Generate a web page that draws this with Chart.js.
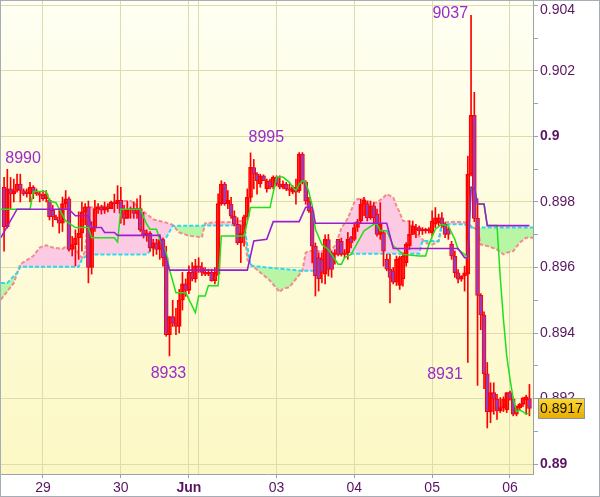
<!DOCTYPE html>
<html>
<head>
<meta charset="utf-8">
<title>Hourly Ichimoku</title>
<script src="https://cdn.jsdelivr.net/npm/chart.js"></script>
<style>
  html, body { margin: 0; padding: 0; background: #fff; }
  .wrap { width: 600px; height: 497px; position: relative; }
</style>
</head>
<body>
<div class="wrap"><canvas id="chart"></canvas></div>
<script>
  // hourly bars, bar k sits at slot firstBar + k
  const firstBar = 1;
  const open = [
    0.89845,0.89725,0.8984,0.89825,0.89835,0.89855,0.89835,0.8983,0.89825,0.89845,
    0.8983,0.89825,0.8982,0.8981,0.89805,0.89775,0.89755,0.89745,0.89735,0.89795,
    0.8981,0.89655,0.8967,0.8969,0.89705,0.8977,0.89785,0.896,0.8972,0.8978,
    0.89785,0.89775,0.89785,0.8978,0.898,0.89795,0.89805,0.89765,0.8975,0.89775,
    0.8978,0.89765,0.8978,0.89715,0.897,0.89705,0.8966,0.89675,0.89655,0.89685,
    0.8963,0.89395,0.8945,0.8943,0.8942,0.895,0.8955,0.8953,0.89585,0.89565,
    0.89605,0.896,0.89585,0.8958,0.89585,0.8956,0.8958,0.89795,0.89855,0.89795,
    0.89793,0.89757,0.89732,0.89676,0.89705,0.89755,0.89814,0.89905,0.89885,0.89855,
    0.8988,0.8984,0.89865,0.89845,0.89875,0.89855,0.89845,0.89855,0.8984,0.8983,
    0.89845,0.89834,0.89946,0.8986,0.89803,0.89773,0.89665,0.8963,0.89625,0.8958,
    0.89685,0.89645,0.8964,0.89686,0.8968,0.8964,0.89645,0.89691,0.89686,0.89722,
    0.89742,0.89793,0.89795,0.89752,0.89788,0.89763,0.89701,0.89707,0.89625,0.89595,
    0.8959,0.89555,0.89545,0.89565,0.89615,0.89666,0.89701,0.89715,0.89722,0.89717,
    0.89712,0.89712,0.89706,0.89732,0.89737,0.89752,0.89732,0.89717,0.89671,0.89635,
    0.89584,0.89564,0.89574,0.8958,0.89885,0.90065,0.8975,0.89515,0.89455,0.89275,
    0.8916,0.89218,0.89198,0.89162,0.89172,0.89165,0.89218,0.89198,0.89152,0.89172,
    0.89182,0.89195,0.892
  ];
  const high = [
    0.89875,0.899,0.89875,0.8987,0.89885,0.89885,0.8984,0.8984,0.8986,0.8985,
    0.8984,0.8983,0.89835,0.89835,0.8981,0.8979,0.8976,0.8978,0.89815,0.89835,
    0.89815,0.89695,0.89715,0.8977,0.898,0.89795,0.89803,0.8974,0.89805,0.89795,
    0.8979,0.898,0.89795,0.89803,0.89824,0.8985,0.89845,0.8979,0.89803,0.89785,
    0.898,0.8981,0.8982,0.89768,0.89715,0.8971,0.89686,0.89686,0.897,0.8969,
    0.89665,0.8945,0.895,0.89475,0.89533,0.89585,0.89565,0.89605,0.89615,0.89625,
    0.8963,0.89615,0.896,0.89595,0.89595,0.896,0.89825,0.89865,0.8986,0.89835,
    0.89814,0.89773,0.89752,0.8973,0.8976,0.8984,0.8995,0.8993,0.8989,0.89885,
    0.89883,0.8987,0.8987,0.8988,0.8988,0.8988,0.89865,0.8986,0.89855,0.8985,
    0.8987,0.89951,0.89951,0.89865,0.89814,0.89783,0.89675,0.89645,0.89645,0.897,
    0.89701,0.8965,0.89655,0.89686,0.8969,0.89655,0.89707,0.89695,0.89737,0.89747,
    0.89809,0.89814,0.89803,0.89803,0.89798,0.89778,0.89798,0.89712,0.8964,0.8964,
    0.896,0.89635,0.89635,0.89645,0.89676,0.89742,0.89742,0.89732,0.89727,0.89722,
    0.8972,0.89722,0.89773,0.89783,0.89763,0.89768,0.89737,0.89722,0.8968,0.8965,
    0.89594,0.89575,0.89604,0.8994,0.9037,0.90135,0.8981,0.8952,0.89465,0.8931,
    0.89248,0.89248,0.89213,0.89203,0.89205,0.89218,0.89223,0.89203,0.89177,0.89185,
    0.89203,0.8921,0.89243
  ];
  const low = [
    0.8965,0.8972,0.8978,0.898,0.8983,0.898,0.8982,0.89815,0.898,0.8981,
    0.8982,0.898,0.89805,0.898,0.89745,0.89725,0.89745,0.89705,0.8971,0.8978,
    0.8965,0.89635,0.89605,0.89625,0.8965,0.8973,0.89553,0.8958,0.8971,0.89765,
    0.89763,0.89765,0.8977,0.8978,0.89768,0.8978,0.89735,0.8973,0.8975,0.8975,
    0.8975,0.8975,0.8971,0.8969,0.8968,0.8965,0.89635,0.8964,0.89625,0.89604,
    0.8939,0.8933,0.8942,0.89395,0.894,0.8947,0.89512,0.8952,0.89559,0.89555,
    0.89585,0.89575,0.89575,0.89575,0.89558,0.8955,0.89575,0.8979,0.8979,0.8978,
    0.8975,0.89727,0.8967,0.89615,0.89665,0.89745,0.898,0.8984,0.89824,0.89845,
    0.89865,0.8983,0.8984,0.8984,0.8985,0.8984,0.8984,0.89835,0.89819,0.89825,
    0.89793,0.89829,0.89855,0.89793,0.89768,0.89614,0.89513,0.89528,0.89553,0.8955,
    0.89574,0.8957,0.8961,0.89635,0.89635,0.8963,0.89625,0.8966,0.89681,0.8971,
    0.89737,0.89758,0.89742,0.89747,0.89732,0.89696,0.89686,0.89604,0.8959,0.89492,
    0.8955,0.89545,0.89533,0.89543,0.89604,0.89655,0.89701,0.89691,0.89701,0.89701,
    0.89705,0.89705,0.89696,0.89722,0.89727,0.89722,0.89691,0.89686,0.89625,0.8957,
    0.89553,0.89558,0.89528,0.8931,0.8988,0.8974,0.8924,0.8941,0.8923,0.8911,
    0.89126,0.89152,0.89136,0.89157,0.8916,0.89157,0.89195,0.89147,0.89147,0.89165,
    0.89175,0.89152,0.89147
  ];
  const close = [
    0.89725,0.8984,0.89825,0.89835,0.89855,0.89835,0.89825,0.89825,0.89845,0.8983,
    0.89825,0.8982,0.8981,0.89825,0.89755,0.89755,0.89745,0.89735,0.89795,0.8981,
    0.89655,0.8967,0.8969,0.89705,0.8977,0.89785,0.896,0.8972,0.8978,0.89785,
    0.89775,0.89785,0.8978,0.898,0.89795,0.89805,0.89765,0.8975,0.89775,0.8978,
    0.89765,0.8978,0.89715,0.897,0.89705,0.8966,0.89675,0.89655,0.89685,0.8963,
    0.89395,0.8945,0.8943,0.8942,0.895,0.8955,0.8953,0.89585,0.89565,0.89605,
    0.896,0.89585,0.8958,0.89585,0.8956,0.89585,0.89795,0.89855,0.89795,0.89805,
    0.89757,0.89732,0.89676,0.89705,0.89755,0.89814,0.89906,0.89885,0.89865,0.8988,
    0.89865,0.89865,0.89845,0.89875,0.89855,0.89845,0.89855,0.8984,0.89835,0.89845,
    0.8983,0.89946,0.8986,0.89803,0.89773,0.89665,0.89575,0.89565,0.89585,0.89686,
    0.89595,0.89594,0.89645,0.8964,0.8964,0.89645,0.89686,0.89676,0.89722,0.8974,
    0.89793,0.89805,0.89752,0.89788,0.89752,0.89701,0.89732,0.8965,0.89595,0.8957,
    0.89555,0.89625,0.8963,0.89635,0.89671,0.89701,0.89727,0.89722,0.89712,0.89712,
    0.89717,0.89717,0.89742,0.89752,0.89752,0.89732,0.89701,0.89701,0.89635,0.89584,
    0.89564,0.89574,0.89584,0.89885,0.90065,0.8975,0.89515,0.89455,0.89275,0.8916,
    0.89218,0.89198,0.89162,0.89172,0.89198,0.89218,0.89198,0.89152,0.89177,0.89182,
    0.89202,0.89205,0.8917
  ];

  // indicator lines, read at their turning points (slot, value)
  const tenkanX = [0,9,10,14,15,17,20,23,27,28,35,36,37,43,45,46,48,49,51,52,53,54,57,60,61,63,64,66,67,68,75,77,83,85,87,89,90,91,92,93,94,95,96,97,99,101,104,105,106,108,110,112,115,116,117,119,121,124,129,131,132,134,136,138,140,141,143,144,145,146,147,149,150,153,154,155,156,157,158,159,160,161,162,163];
  const tenkanY = [0.89778,0.89778,0.89832,0.89832,0.89803,0.89798,0.89742,0.89722,0.89722,0.89691,0.89691,0.89678,0.89778,0.89778,0.89732,0.89717,0.89717,0.89686,0.89645,0.89594,0.89559,0.89523,0.89523,0.89462,0.89513,0.89513,0.89544,0.89544,0.89544,0.89696,0.89696,0.89783,0.89783,0.89876,0.89876,0.8986,0.89845,0.89835,0.89855,0.89865,0.8986,0.8983,0.8979,0.89717,0.8967,0.89655,0.8961,0.8961,0.8963,0.8964,0.89676,0.89712,0.89732,0.89732,0.89712,0.89712,0.89666,0.8964,0.89635,0.89635,0.89671,0.89717,0.89732,0.89727,0.89686,0.89655,0.8964,0.8963,0.89845,0.89845,0.89794,0.89794,0.89728,0.89728,0.8957,0.8944,0.8933,0.8926,0.892,0.8916,0.89165,0.8916,0.89152,0.89156];
  const kijunX = [0,5,21,23,27,28,31,32,35,36,49,52,76,78,82,84,92,94,96,97,119,121,141,143,144,145,146,147,149,150,163];
  const kijunY = [0.89691,0.89778,0.89778,0.89758,0.89758,0.89722,0.89722,0.89707,0.89707,0.89698,0.89698,0.89592,0.89592,0.89681,0.89686,0.8974,0.8974,0.89784,0.89784,0.89735,0.89735,0.89658,0.89658,0.8963,0.8963,0.89845,0.89845,0.89794,0.89794,0.89728,0.89728];
  const spanAX = [0,4,6,10,12,14,16,19,20,22,23,24,25,26,27,33,35,36,40,41,43,45,47,49,51,53,54,55,58,62,63,66,70,74,75,76,77,80,83,86,87,89,91,93,94,95,100,102,103,104,105,107,109,110,112,114,116,118,119,121,122,123,124,126,127,129,130,131,133,135,136,140,143,145,146,147,148,150,153,155,156,158,160,162,165];
  const spanAY = [0.89502,0.89553,0.8961,0.89635,0.89661,0.89668,0.89661,0.89657,0.89664,0.89666,0.8966,0.8964,0.8963,0.8965,0.89783,0.89788,0.89798,0.89803,0.89803,0.89798,0.89778,0.89763,0.89747,0.89742,0.89737,0.8973,0.89718,0.89707,0.89697,0.89692,0.89735,0.89738,0.89738,0.89742,0.89738,0.89625,0.8961,0.89585,0.8956,0.89525,0.89535,0.8954,0.89565,0.8959,0.89645,0.8965,0.8965,0.89655,0.89666,0.8969,0.8972,0.8975,0.89798,0.89809,0.89809,0.89798,0.89798,0.89814,0.89824,0.89814,0.89788,0.89768,0.89742,0.89742,0.89717,0.89696,0.89686,0.89675,0.8967,0.8968,0.89737,0.8974,0.89738,0.89727,0.8972,0.89715,0.8967,0.89666,0.89655,0.8964,0.89645,0.8965,0.89676,0.89691,0.89691];
  const spanBX = [0,2,5,6,24,25,27,45,47,51,53,75,77,93,101,102,129,130,135,136,143,145,165];
  const spanBY = [0.89553,0.89553,0.89584,0.89602,0.89602,0.89625,0.8964,0.8964,0.8966,0.89691,0.89727,0.89729,0.89605,0.8959,0.8959,0.89642,0.89642,0.89681,0.89681,0.89732,0.89732,0.89722,0.89722];

  // swing labels
  const noteIdx = [2, 52, 77, 145, 144];
  const noteVal = [0.8990, 0.8933, 0.8995, 0.9037, 0.8931];
  const noteText = ['8990', '8933', '8995', '9037', '8931'];
  const noteAlign = ['left', 'center', 'left', 'right', 'right'];
  const noteDx = [-2, -1, -2, -3, -5];
  const noteDy = [-6, 22, -11, 3, 17];

  const lastPrice = 0.8917;
  const lastText = '0.8917';

  // axes
  const xTickIdx = [13, 37, 58, 61, 85, 109, 133, 157];
  const xTickText = ['29', '30', 'Jun', '', '03', '04', '05', '06'];
  const yTickVals = [0.890,0.891,0.892,0.893,0.894,0.895,0.896,0.897,0.898,0.899,0.900,0.901,0.902,0.903,0.904];
  const yTickText = ['0.89','','0.892','','0.894','','0.896','','0.898','','0.9','','0.902','','0.904'];

  const FONT = 'Liberation Sans, Arial, sans-serif';
  const AXIS_INK = '#5a1462';
  const GRID = '#dedcae';
  const EDGE = '#98a3ae';
  const topTick = yTickText.length - 1;   // drawn by hand so it is not cut off

  const pts = (xs, ys) => xs.map((x, k) => ({x: x, y: ys[k]}));
  const wickData = high.map((h, k) => ({x: firstBar + k, y: [low[k], h]}));
  const bodyData = open.map((o, k) => ({x: firstBar + k, y: [o, close[k]]}));

  const backdrop = {
    id: 'backdrop',
    beforeDraw(chart) {
      const {ctx, chartArea: a} = chart;
      ctx.save();
      ctx.fillStyle = '#ffffff';
      ctx.fillRect(0, 0, chart.width, chart.height);
      const g = ctx.createLinearGradient(0, a.top, 0, a.bottom);
      g.addColorStop(0, '#fffff3');
      g.addColorStop(1, '#fcf8c4');
      ctx.fillStyle = g;
      ctx.fillRect(a.left, a.top, a.right - a.left, a.bottom - a.top);
      ctx.restore();
    }
  };

  const overlay = {
    id: 'overlay',
    afterDraw(chart) {
      const {ctx, chartArea: a} = chart;
      const xs = chart.scales.x, ys = chart.scales.y;
      ctx.save();
      // top axis label, pushed down inside the frame
      ctx.font = '14px ' + FONT;
      ctx.fillStyle = AXIS_INK;
      ctx.textAlign = 'left';
      ctx.textBaseline = 'middle';
      ctx.fillText(yTickText[topTick], a.right + 7, Math.max(ys.getPixelForValue(yTickVals[topTick]), 10));
      // swing labels
      ctx.font = '16px ' + FONT;
      ctx.fillStyle = '#9a2cc9';
      ctx.textBaseline = 'alphabetic';
      noteIdx.forEach((idx, k) => {
        ctx.textAlign = noteAlign[k];
        let y = ys.getPixelForValue(noteVal[k]) + noteDy[k];
        if (y < a.top + 17) y = a.top + 17;
        ctx.fillText(noteText[k], xs.getPixelForValue(idx) + noteDx[k], y);
      });
      // last price tag
      const py = Math.round(ys.getPixelForValue(lastPrice));
      const bx = a.right + 5, bw = 46, bh = 20, by = py - 10;
      const g = ctx.createLinearGradient(0, by, 0, by + bh);
      g.addColorStop(0, '#ffd92e');
      g.addColorStop(1, '#e9ad00');
      ctx.fillStyle = g;
      ctx.fillRect(bx + 0.5, by + 0.5, bw, bh);
      ctx.strokeStyle = '#8797aa';
      ctx.lineWidth = 1;
      ctx.strokeRect(bx + 0.5, by + 0.5, bw, bh);
      ctx.fillStyle = '#111111';
      ctx.font = '14px ' + FONT;
      ctx.textAlign = 'left';
      ctx.textBaseline = 'middle';
      ctx.fillText(lastText, bx + 2, by + bh / 2 + 1);
      // frame
      ctx.strokeStyle = '#a5adb6';
      ctx.strokeRect(0.5, 0.5, chart.width - 1, chart.height - 1);
      ctx.restore();
    }
  };

  new Chart(document.getElementById('chart'), {
    type: 'line',
    data: {
      datasets: [
        {
          type: 'line', label: 'Senkou A', data: pts(spanAX, spanAY),
          borderColor: '#f28c8c', borderWidth: 2, borderDash: [4, 2],
          pointRadius: 0, tension: 0,
          fill: {target: 1, above: '#fdcae4', below: '#b8f5a4'},
          order: 20
        },
        {
          type: 'line', label: 'Senkou B', data: pts(spanBX, spanBY),
          borderColor: '#2fd6f4', borderWidth: 2, borderDash: [4, 2],
          pointRadius: 0, tension: 0, fill: false, order: 19
        },
        {
          type: 'bar', label: 'wick', data: wickData, grouped: false,
          barThickness: 1, backgroundColor: '#ff0000', borderWidth: 0, order: 6
        },
        {
          type: 'bar', label: 'body', data: bodyData, grouped: false,
          barThickness: 4, borderWidth: 1, borderSkipped: false, borderColor: '#ff0000',
          backgroundColor: ctx => close[ctx.dataIndex] < open[ctx.dataIndex] ? '#9c3ab8' : 'rgba(0,0,0,0)',
          order: 5
        },
        {
          type: 'line', label: 'Tenkan', data: pts(tenkanX, tenkanY),
          borderColor: '#1ee01e', borderWidth: 1.5, pointRadius: 0, tension: 0, fill: false, order: 2
        },
        {
          type: 'line', label: 'Kijun', data: pts(kijunX, kijunY),
          borderColor: '#9a1fd0', borderWidth: 1.6, pointRadius: 0, tension: 0, fill: false, order: 1
        }
      ]
    },
    options: {
      responsive: true,
      maintainAspectRatio: false,
      animation: false,
      layout: { autoPadding: false, padding: { left: 1, top: 1, right: 0, bottom: 0 } },
      plugins: { legend: { display: false }, tooltip: { enabled: false } },
      scales: {
        x: {
          type: 'linear', min: 0.05, max: 164.1, offset: false,
          afterBuildTicks: s => { s.ticks = xTickIdx.map(v => ({value: v})); },
          afterFit: s => { s.height = 23; s.paddingLeft = 0; s.paddingRight = 0; },
          ticks: {
            autoSkip: false, maxRotation: 0, padding: 2, color: AXIS_INK,
            font: ctx => ({family: FONT, size: 14, weight: xTickText[ctx.index] === 'Jun' ? 'bold' : 'normal'}),
            callback: (v, i) => xTickText[i]
          },
          grid: {
            offset: false, color: GRID, tickLength: 4,
            tickColor: ctx => xTickText[ctx.index] ? EDGE : 'rgba(0,0,0,0)'
          },
          border: { color: EDGE }
        },
        y: {
          type: 'linear', position: 'right', min: 0.889695, max: 0.904137,
          afterBuildTicks: s => { s.ticks = yTickVals.map(v => ({value: v})); },
          afterFit: s => { s.width = 67; s.paddingTop = 0; s.paddingBottom = 0; },
          ticks: {
            padding: 2, color: AXIS_INK,
            font: ctx => ({family: FONT, size: 14, weight: (yTickText[ctx.index] || '').length === 3 || yTickText[ctx.index] === '0.89' ? 'bold' : 'normal'}),
            callback: (v, i) => (i === topTick ? '' : yTickText[i])
          },
          grid: {
            color: ctx => yTickText[ctx.index] ? GRID : 'rgba(0,0,0,0)',
            tickColor: EDGE, tickLength: 5
          },
          border: { color: EDGE }
        }
      }
    },
    plugins: [backdrop, overlay]
  });
</script>
</body>
</html>
